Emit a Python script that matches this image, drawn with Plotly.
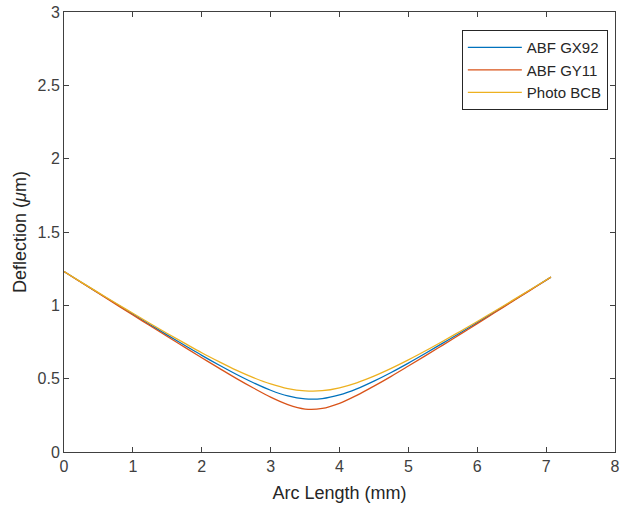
import plotly.graph_objects as go

arc_mm = [0, 0.25, 0.5, 0.75, 1.0, 1.25, 1.5, 1.75, 2.0, 2.25, 2.5, 2.75, 3.0, 3.25, 3.5,
          3.75, 4.0, 4.25, 4.5, 4.75, 5.0, 5.25, 5.5, 5.75, 6.0, 6.25, 6.5, 6.75, 7.0, 7.07]

abf_gx92 = [1.230, 1.157, 1.084, 1.012, 0.940, 0.868, 0.797, 0.728, 0.659, 0.593, 0.530,
            0.472, 0.421, 0.382, 0.362, 0.364, 0.389, 0.430, 0.483, 0.542, 0.606, 0.673,
            0.742, 0.811, 0.882, 0.954, 1.026, 1.099, 1.172, 1.192]

abf_gy11 = [1.230, 1.156, 1.082, 1.008, 0.934, 0.861, 0.788, 0.715, 0.643, 0.572, 0.502,
            0.436, 0.374, 0.323, 0.293, 0.297, 0.332, 0.386, 0.449, 0.516, 0.586, 0.657,
            0.729, 0.802, 0.875, 0.949, 1.023, 1.097, 1.171, 1.192]

photo_bcb = [1.230, 1.158, 1.087, 1.016, 0.946, 0.876, 0.808, 0.742, 0.677, 0.616, 0.558,
             0.507, 0.464, 0.432, 0.417, 0.418, 0.438, 0.472, 0.517, 0.570, 0.628, 0.690,
             0.755, 0.822, 0.890, 0.960, 1.030, 1.101, 1.173, 1.193]

series = [("ABF GX92", abf_gx92, "#0072BD"),
          ("ABF GY11", abf_gy11, "#D95319"),
          ("Photo BCB", photo_bcb, "#EDB120")]

x_ticks = [0, 1, 2, 3, 4, 5, 6, 7, 8]
y_ticks = [0, 0.5, 1, 1.5, 2, 2.5, 3]
y_tick_labels = ["0", "0.5", "1", "1.5", "2", "2.5", "3"]

fig = go.Figure()
for name, vals, col in series:
    fig.add_trace(go.Scatter(x=arc_mm, y=vals, mode="lines", name=name,
                             line=dict(color=col, width=1.3, shape="spline")))

axis_common = dict(showgrid=False, zeroline=False, showline=True, linecolor="#404040",
                   linewidth=1, mirror="ticks", ticks="inside", ticklen=5,
                   tickcolor="#404040", automargin=False,
                   tickfont=dict(size=16, color="#404040"))

fig.update_layout(
    width=623, height=508,
    margin=dict(l=64, r=8, t=12, b=56),
    paper_bgcolor="white", plot_bgcolor="white",
    font=dict(family="Liberation Sans, Arial, sans-serif", color="#262626"),
    showlegend=True,
    legend=dict(x=0.987, y=0.959, xanchor="right", yanchor="top",
                bgcolor="white", bordercolor="#262626", borderwidth=1,
                itemwidth=54,
                font=dict(size=15, color="#262626"), tracegroupgap=0),
    xaxis=dict(range=[0, 8], tickvals=x_ticks,
               title=dict(text="Arc Length (mm)", font=dict(size=18, color="#262626"),
                          standoff=12),
               **axis_common),
    yaxis=dict(range=[0, 3], tickvals=y_ticks, ticktext=y_tick_labels,
               title=dict(text="Deflection (<i>μ</i>m)", font=dict(size=18, color="#262626"),
                          standoff=6),
               **axis_common),
)

fig.write_html("out.html", config={"displayModeBar": False},
               post_script="document.body.style.margin='0';")
